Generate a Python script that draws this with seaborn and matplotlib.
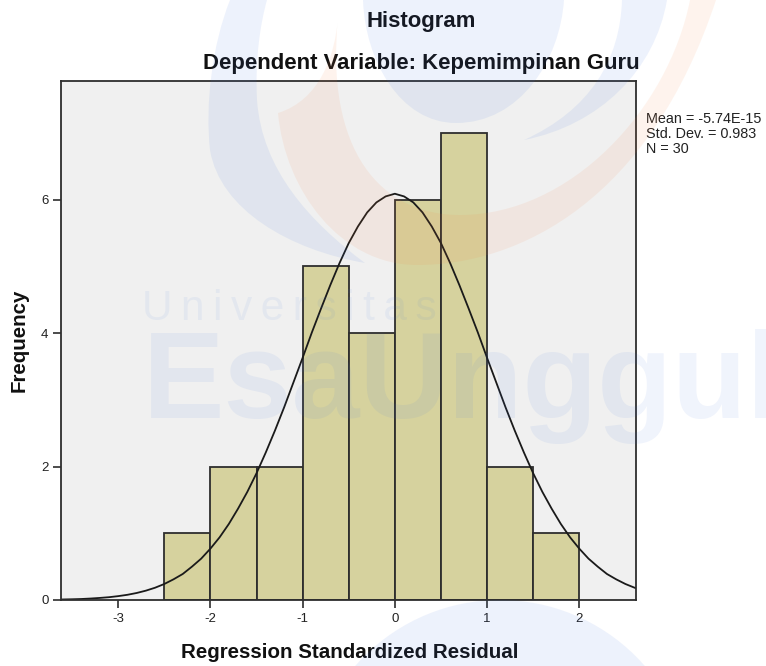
import matplotlib
matplotlib.use("Agg")
import matplotlib.pyplot as plt
from matplotlib.path import Path
from matplotlib.patches import PathPatch, Circle
import seaborn as sns

# ---- data ----
bin_edges = [-2.5, -2.0, -1.5, -1.0, -0.5, 0.0, 0.5, 1.0, 1.5, 2.0]
bin_centers = [-2.25, -1.75, -1.25, -0.75, -0.25, 0.25, 0.75, 1.25, 1.75]
frequencies = [1, 2, 2, 5, 4, 6, 7, 2, 1]
curve_x = [-3.65, -3.6, -3.5, -3.4, -3.3, -3.2, -3.1, -3.0, -2.9, -2.8, -2.7, -2.6, -2.5, -2.4, -2.3, -2.2, -2.1,
           -2.0, -1.9, -1.8, -1.7, -1.6, -1.5, -1.4, -1.3,
           -1.2, -1.1, -1.0, -0.9, -0.8, -0.7, -0.6, -0.5, -0.4, -0.3, -0.2, -0.1, 0.0,
           0.1, 0.2, 0.3, 0.4, 0.5, 0.6, 0.7, 0.8, 0.9, 1.0, 1.1, 1.2, 1.3, 1.4, 1.5, 1.6,
           1.7, 1.8, 1.9, 2.0, 2.1, 2.2, 2.3, 2.4, 2.5, 2.6, 2.65]
curve_y = [0.006, 0.008, 0.011, 0.015, 0.022, 0.031, 0.042, 0.058, 0.078, 0.105, 0.14, 0.184, 0.24, 0.31, 0.39, 0.50, 0.62,
           0.77, 0.94, 1.14, 1.37, 1.62, 1.90, 2.21, 2.54,
           2.89, 3.26, 3.63, 4.01, 4.37, 4.72, 5.05, 5.35, 5.60, 5.81, 5.96, 6.05, 6.09,
           6.05, 5.96, 5.81, 5.60, 5.35, 5.05, 4.72, 4.37, 4.01, 3.63, 3.26, 2.89, 2.54, 2.21, 1.90, 1.62,
           1.37, 1.14, 0.94, 0.77, 0.62, 0.50, 0.39, 0.31, 0.24, 0.184, 0.16]
x_ticks = [-3, -2, -1, 0, 1, 2]
y_ticks = [0, 2, 4, 6]
stats_lines = ["Mean = -5.74E-15", "Std. Dev. = 0.983", "N = 30"]

W, H = 766, 666
DARK = "#2e2e2e"
sns.set_theme(style="white")
plt.rcParams["font.family"] = ["Liberation Sans", "DejaVu Sans"]

fig = plt.figure(figsize=(W / 100, H / 100), dpi=100, facecolor="white")
ax = fig.add_axes([61 / W, (H - 600) / H, 575 / W, 519 / H], facecolor="#f0f0f0")

sns.histplot(x=bin_centers, weights=frequencies, bins=bin_edges, ax=ax,
             color="#d6d29e", edgecolor=DARK, linewidth=1.3, alpha=1)
sns.lineplot(x=curve_x, y=curve_y, ax=ax, color="#1a1a1a", linewidth=1.3, errorbar=None)

ax.set_xlim(-3.62, 2.615)
ax.set_ylim(0, 7.78)
ax.set_xlabel("")
ax.set_ylabel("")
ax.set_xticks(x_ticks)
ax.set_yticks(y_ticks)
ax.set_xticklabels([str(t) for t in x_ticks])
ax.set_yticklabels([str(t) for t in y_ticks])
ax.tick_params(axis="both", length=6, width=1.2, color=DARK, labelcolor="#222222", labelsize=9.5, pad=3,
               bottom=True, left=True)
for s in ax.spines.values():
    s.set_visible(True)
    s.set_color(DARK)
    s.set_linewidth(1.3)

fig.text(350 / W, 1 - 652 / H, "Regression Standardized Residual", fontsize=14.8, fontweight="bold",
         ha="center", va="center", color="#111111")
fig.text(19 / W, 1 - 340 / H, "Frequency", fontsize=14.8, fontweight="bold", rotation=90,
         ha="center", va="center", color="#111111")
fig.text(421 / W, 1 - 22 / H, "Histogram", fontsize=15.9, fontweight="bold", ha="center", va="center",
         color="#111111")
fig.text(421 / W, 1 - 63 / H, "Dependent Variable: Kepemimpinan Guru", fontsize=15.9, fontweight="bold",
         ha="center", va="center", color="#111111")
for i, line in enumerate(stats_lines):
    fig.text(646 / W, 1 - (119 + i * 15) / H, line, fontsize=10.4, ha="left", va="center", color="#222222")

# ---- watermark overlay, in picture pixels ----
ov = fig.add_axes([0, 0, 1, 1], zorder=10)
ov.set_xlim(0, W)
ov.set_ylim(H, 0)
ov.axis("off")
ov.patch.set_alpha(0)

BLUE = (0.25, 0.45, 0.88)
ORANGE = (0.98, 0.50, 0.25)


def swoosh(start, segments, color, alpha):
    verts, codes = [start], [Path.MOVETO]
    for seg in segments:
        if len(seg) == 1:
            verts += seg
            codes += [Path.LINETO]
        else:
            verts += seg
            codes += [Path.CURVE4] * 3
    verts.append(start)
    codes.append(Path.CLOSEPOLY)
    ov.add_patch(PathPatch(Path(verts, codes), facecolor=color, edgecolor="none", alpha=alpha))


swoosh((230, 0), [[(212, 45), (205, 105), (210, 150)], [(220, 210), (290, 250), (365, 263)],
                  [(310, 222), (262, 170), (257, 100)], [(255, 60), (260, 25), (267, 0)]], BLUE, 0.09)
swoosh((363, 0), [[(365, 60), (400, 123), (456, 123)], [(520, 123), (560, 60), (564, 0)]], BLUE, 0.09)
swoosh((524, 140), [[(590, 110), (620, 60), (622, 0)], [(667, 0)], [(655, 70), (600, 125), (524, 140)]], BLUE, 0.09)
swoosh((338, 18), [[(335, 55), (320, 100), (278, 113)], [(285, 190), (340, 265), (417, 265)],
                   [(520, 265), (650, 200), (716, 0)], [(690, 0)], [(668, 110), (570, 215), (460, 215)],
                   [(380, 215), (325, 150), (338, 18)]], ORANGE, 0.09)
ov.add_patch(Circle((500, 792), 192, facecolor=BLUE, edgecolor="none", alpha=0.09))

ov.text(143, 418, "EsaUnggul", fontsize=88, fontweight="bold", color=BLUE, alpha=0.08,
        ha="left", va="baseline", clip_on=True)
ov.text(142, 320, "U\u2009n\u2009i\u2009v\u2009e\u2009r\u2009s\u2009i\u2009t\u2009a\u2009s", fontsize=30.5,
        color=BLUE, alpha=0.07, ha="left", va="baseline")

fig.savefig("out.png", dpi=100)
